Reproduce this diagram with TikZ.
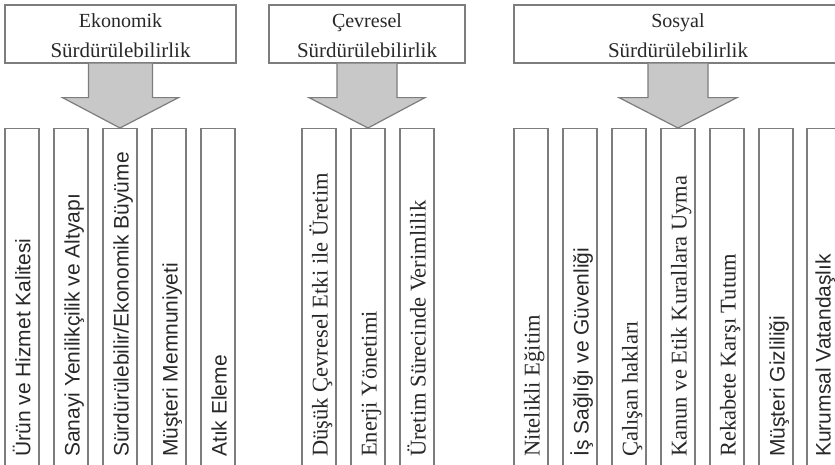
\documentclass[tikz,border=0pt]{standalone}
\usepackage{fontspec}
\setmainfont{Liberation Serif}
\newfontfamily\arialf{Liberation Sans}
\usetikzlibrary{calc}
\definecolor{bordergray}{RGB}{125,125,125}
\definecolor{arrowfill}{RGB}{200,200,200}
\definecolor{txt}{RGB}{40,40,40}
\begin{document}
\begin{tikzpicture}[x=1pt,y=-1pt,
  head/.style={draw=bordergray, line width=1.2pt, fill=white, inner sep=0, minimum height=58pt},
  headtext/.style={align=center, font=\fontsize{20}{30}\selectfont, text=txt, inner sep=0},
  vbox/.style={draw=bordergray, line width=1.2pt, minimum width=34pt,
    minimum height=345pt, anchor=north, inner sep=0},
  vt/.style={rotate=90, anchor=base west, inner sep=0, text=txt},
  sansf/.style={font=\arialf\fontsize{21}{21}\selectfont},
  seriff/.style={font=\fontsize{22.5}{22.5}\selectfont},
  bigarrow/.style={fill=arrowfill, draw=bordergray, line width=1.2pt, line join=miter}
]
\useasboundingbox (0,0) rectangle (835,464);
\clip (0,0) rectangle (835,464);

% headers
\node[head, minimum width=231pt] (ek) at (120.5,34) {};
\node[head, minimum width=196pt] (cv) at (367,34) {};
\node[head, minimum width=328pt] (so) at (678,34) {};
\node[headtext] (ekt) at ($(ek.center)+(0,1.5)$) {Ekonomik\\\fontsize{21}{30}\selectfont Sürdürülebilirlik};
\node[headtext] (cvt) at ($(cv.center)+(0,1.5)$) {Çevresel\\\fontsize{21}{30}\selectfont Sürdürülebilirlik};
\node[headtext] (sot) at ($(so.center)+(0,1.5)$) {Sosyal\\\fontsize{21}{30}\selectfont Sürdürülebilirlik};

% Ekonomik boxes
\foreach \n/\x in {1/22,2/71,3/120,4/169,5/218}{
  \node[vbox] (e\n) at (\x,128) {};
}
% Cevresel boxes
\foreach \n/\x in {1/319,2/368,3/417}{
  \node[vbox] (c\n) at (\x,128) {};
}
% Sosyal boxes
\foreach \n/\x in {1/531,2/580,3/629,4/678,5/727,6/776,7/824}{
  \node[vbox] (s\n) at (\x,128) {};
}

% arrows
\path[bigarrow] ($(ek.south)+(-32,0)$) -- ($(ek.south)+(-32,34)$) -- ($(ek.south)+(-58,34)$)
  -- (e3.north) -- ($(ek.south)+(58,34)$) -- ($(ek.south)+(32,34)$) -- ($(ek.south)+(32,0)$);
\path[bigarrow] ($(cv.south)+(-30,0)$) -- ($(cv.south)+(-30,34)$) -- ($(cv.south)+(-58,34)$)
  -- (c2.north) -- ($(cv.south)+(58,34)$) -- ($(cv.south)+(30,34)$) -- ($(cv.south)+(30,0)$);
\path[bigarrow] ($(so.south)+(-30,0)$) -- ($(so.south)+(-30,34)$) -- ($(so.south)+(-59,34)$)
  -- (s4.north) -- ($(so.south)+(59,34)$) -- ($(so.south)+(30,34)$) -- ($(so.south)+(30,0)$);

% texts
\node[vt, sansf] (te1) at ($(e1.north)+(8.5,329)$) {Ürün ve Hizmet Kalitesi};
\node[vt, sansf] (te2) at ($(e2.north)+(8.5,329)$) {Sanayi Yenilikçilik ve Altyapı};
\node[vt, sansf] (te3) at ($(e3.north)+(8.5,329)$) {Sürdürülebilir/Ekonomik Büyüme};
\node[vt, sansf] (te4) at ($(e4.north)+(8.5,329)$) {Müşteri Memnuniyeti};
\node[vt, sansf] (te5) at ($(e5.north)+(8.5,329)$) {Atık Eleme};

\node[vt, seriff] (tc1) at ($(c1.north)+(8.5,329)$) {Düşük Çevresel Etki ile Üretim};
\node[vt, seriff] (tc2) at ($(c2.north)+(8.5,329)$) {Enerji Yönetimi};
\node[vt, seriff] (tc3) at ($(c3.north)+(8.5,329)$) {Üretim Sürecinde Verimlilik};

\node[vt, seriff] (ts1) at ($(s1.north)+(8.5,329)$) {Nitelikli Eğitim};
\node[vt, sansf]  (ts2) at ($(s2.north)+(8.5,329)$) {İş Sağlığı ve Güvenliği};
\node[vt, seriff] (ts3) at ($(s3.north)+(8.5,329)$) {Çalışan hakları};
\node[vt, seriff] (ts4) at ($(s4.north)+(8.5,329)$) {Kanun ve Etik Kurallara Uyma};
\node[vt, seriff] (ts5) at ($(s5.north)+(8.5,329)$) {Rekabete Karşı Tutum};
\node[vt, sansf]  (ts6) at ($(s6.north)+(8.5,329)$) {Müşteri Gizliliği};
\node[vt, sansf]  (ts7) at ($(s7.north)+(6.5,329)$) {Kurumsal Vatandaşlık};
\end{tikzpicture}
\end{document}
